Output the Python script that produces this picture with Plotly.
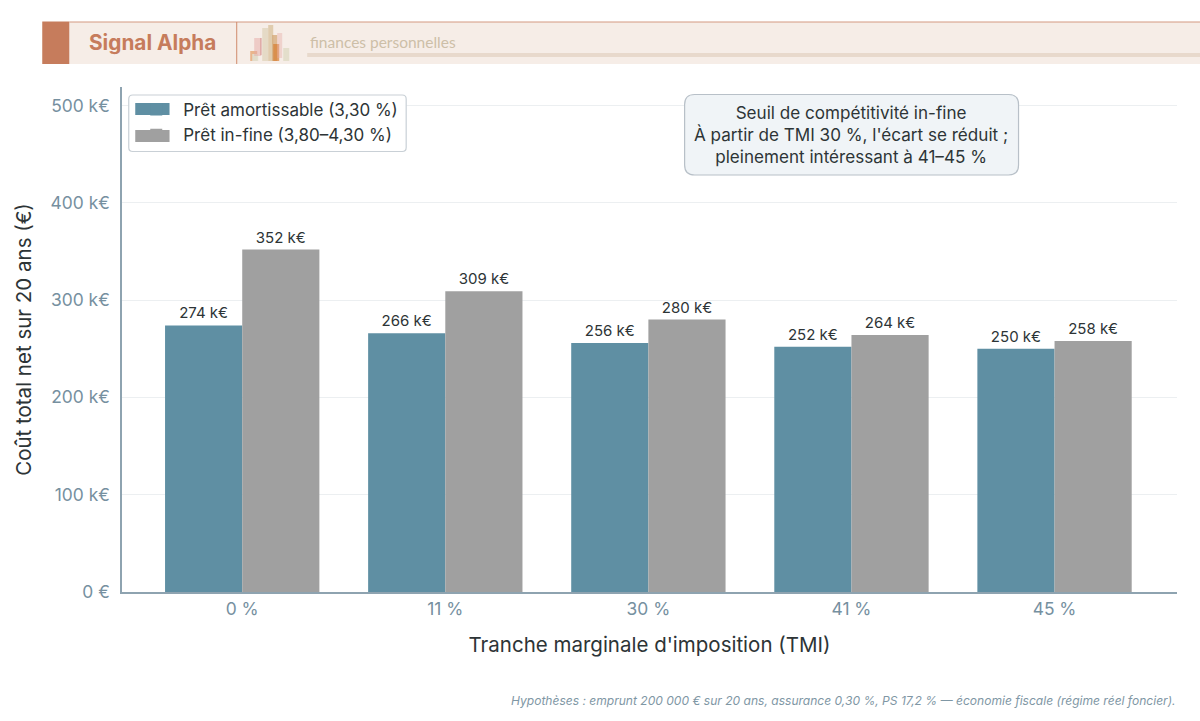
import plotly.graph_objects as go

categories = ["0 %", "11 %", "30 %", "41 %", "45 %"]
amortissable = [274, 266, 256, 252, 250]
in_fine = [352, 309, 280, 264, 258]
y_ticks = [0, 100, 200, 300, 400, 500]
y_labels = ["0 €", "100 k€", "200 k€", "300 k€", "400 k€", "500 k€"]
COL_A, COL_B = "#5f8fa3", "#a0a0a0"
# decorative header skyline: (x0, x1, top, bottom, colour)
skyline = [
    (250, 257, 51, 61, "rgba(226,150,90,.65)"), (252, 258, 54, 61, "rgba(225,222,205,.95)"),
    (254, 261, 38, 56, "rgba(230,170,165,.5)"), (260, 261.5, 38, 55, "rgba(190,90,90,.35)"),
    (262, 268, 28, 61, "rgba(226,214,192,.85)"), (268, 273, 25, 61, "rgba(215,190,150,.7)"),
    (272, 277, 35, 61, "rgba(205,150,90,.6)"), (273, 279, 44, 61, "rgba(215,120,40,.65)"),
    (277, 282, 33, 58, "rgba(230,170,165,.4)"), (283, 289, 48, 61, "rgba(225,220,200,.9)"),
]

W, H = 1200, 721
L, R, T, B = 121.75, 1177, 87, 592
PW, PH = R - L, B - T
def px(v): return (v - L) / PW
def py(v): return (B - v) / PH

def rounded(x0, y0, x1, y1, r):
    a, b, c, d = px(x0), py(y0), px(x1), py(y1)
    rx, ry = r / PW, r / PH
    return (f"M{a+rx},{b} L{c-rx},{b} Q{c},{b} {c},{b-ry} L{c},{d+ry} Q{c},{d} {c-rx},{d} "
            f"L{a+rx},{d} Q{a},{d} {a},{d+ry} L{a},{b-ry} Q{a},{b} {a+rx},{b} Z")

def rect(x0, y0, x1, y1, fill):
    return dict(type="rect", xref="paper", yref="paper", x0=px(x0), x1=px(x1), y0=py(y0), y1=py(y1),
                fillcolor=fill, line_width=0, layer="above")

FONT = "Inter"
shapes = [
    rect(42, 22, 1200, 64, "#f6ede7"),
    rect(42, 21.5, 69, 64, "#c67c5c"),
    rect(69, 21.5, 1200, 22.5, "#d39a82"),
    rect(236, 22, 237, 64, "#d08a6c"),
    rect(307, 53, 1200, 57, "#e8d9cc"),
]
for x0, x1, top, bot, c in skyline:
    shapes.append(rect(x0, top, x1, bot, c))
shapes.append(dict(type="path", xref="paper", yref="paper", path=rounded(128.5, 95, 406, 151.5, 4),
                   fillcolor="rgba(255,255,255,0.95)", line=dict(color="#c9d0d6", width=1.2), layer="above"))
shapes.append(dict(type="path", xref="paper", yref="paper", path=rounded(684.5, 94.5, 1018.5, 175, 10),
                   fillcolor="#f0f4f7", line=dict(color="#b8c0c8", width=1.2), layer="above"))
shapes.append(rect(135, 103, 169.3, 115, COL_A))
shapes.append(rect(135, 130, 169.3, 142, COL_B))

fig = go.Figure()
for name, vals, col, grp in [("Prêt amortissable (3,30 %)", amortissable, COL_A, "a"),
                             ("Prêt in-fine (3,80–4,30 %)", in_fine, COL_B, "b")]:
    fig.add_bar(name=name, x=categories, y=vals, marker=dict(color=col, line_width=0), legendgroup=grp,
                text=[f"{v} k€" for v in vals], textposition="outside", cliponaxis=False,
                textfont=dict(family=FONT, size=15, color="#2d3436"))

fig.update_layout(
    width=W, height=H, autosize=False, paper_bgcolor="white", plot_bgcolor="white",
    margin=dict(l=L, r=W - R, t=T, b=H - B), barmode="group", bargap=0.24, bargroupgap=0,
    font=dict(family=FONT, color="#2d3436"), shapes=shapes, showlegend=True,
    legend=dict(x=px(129), y=py(92), xanchor="left", yanchor="top", bgcolor="rgba(0,0,0,0)",
                borderwidth=0, font=dict(family=FONT, size=17, color="#2d3436"),
                itemwidth=44, tracegroupgap=7, traceorder="normal"),
    xaxis=dict(title=dict(text="Tranche marginale d'imposition (TMI)", font=dict(family=FONT, size=20.5, color="#2d3436"), standoff=20),
               range=[-0.592, 4.603], showgrid=False, showline=True, linecolor="#8ea3b0", linewidth=1.5,
               ticks="", tickfont=dict(family=FONT, size=17.4, color="#76909f"), zeroline=False),
    yaxis=dict(title=dict(text="Coût total net sur 20 ans (€)", font=dict(family=FONT, size=20.5, color="#2d3436"), standoff=13),
               range=[0, 519], tickvals=y_ticks, ticktext=y_labels, showgrid=True, gridcolor="#eceff1", gridwidth=1,
               showline=True, linecolor="#8ea3b0", linewidth=1.5, ticks="", zeroline=False, ticklabelstandoff=7,
               tickfont=dict(family=FONT, size=17.4, color="#76909f")),
    annotations=[
        dict(xref="paper", yref="paper", x=px(87), y=py(43), xanchor="left", yanchor="middle", showarrow=False,
             text="<b>Signal Alpha</b>", font=dict(family="Inter", size=20.8, color="#c67c5c")),
        dict(xref="paper", yref="paper", x=px(307.5), y=py(42.5), xanchor="left", yanchor="middle", showarrow=False,
             text="finances personnelles", font=dict(family="Lato", size=15.5, color="#cdbfa8")),
        dict(xref="paper", yref="paper", x=px(851), y=py(134.5), xanchor="center", yanchor="middle", showarrow=False,
             text="Seuil de compétitivité in-fine<br>À partir de TMI 30 %, l'écart se réduit ;<br>pleinement intéressant à 41–45 %",
             align="center", font=dict(family=FONT, size=17.1, color="#2d3436")),
        dict(xref="paper", yref="paper", x=px(1178), y=py(700), xanchor="right", yanchor="middle", showarrow=False,
             text="<i>Hypothèses : emprunt 200 000 € sur 20 ans, assurance 0,30 %, PS 17,2 % — économie fiscale (régime réel foncier).</i>",
             font=dict(family=FONT, size=12.05, color="#7f97a5")),
    ],
)
fig.write_html("out.html", config=dict(displayModeBar=False),
               post_script="document.body.style.margin='0';document.body.style.overflow='hidden';")
